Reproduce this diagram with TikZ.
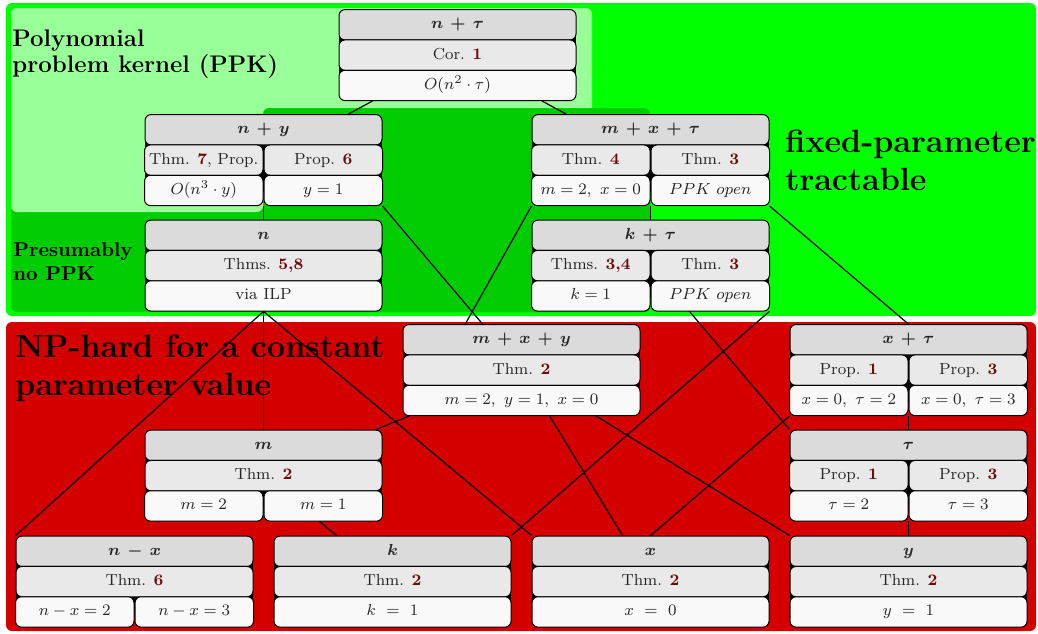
\documentclass[tikz,border=0pt]{standalone}
\usepackage{amsmath}
\usetikzlibrary{calc}

\definecolor{fptgreen}{RGB}{0,255,0}
\definecolor{ppkgreen}{RGB}{153,255,153}
\definecolor{nopkgreen}{RGB}{0,204,0}
\definecolor{hardred}{RGB}{212,0,0}
\definecolor{thmred}{RGB}{110,10,10}

\pgfdeclarelayer{regions}
\pgfdeclarelayer{edges}
\pgfsetlayers{regions,edges,main}

\tikzset{
  pbox/.style={minimum width=118.5pt, minimum height=45.5pt, inner sep=0pt},
  cellbase/.style={draw=black, line width=0.5pt, rounded corners=3pt, inner sep=1pt,
    minimum height=15.17pt, text height=5.8pt, text depth=1.8pt, text=black!85, font=\footnotesize},
  headcell/.style={cellbase, fill=gray!28},
  midcell/.style={cellbase, fill=gray!17},
  lowcell/.style={cellbase, fill=gray!5},
  rowcell/.style={midcell},
  link/.style={line width=0.6pt, black},
  regionlabel/.style={anchor=north west, inner sep=0pt, align=left, font=\bfseries},
}

\newcommand{\nr}[1]{\textcolor{thmred}{\textbf{#1}}}
\newcommand{\whole}[1]{\node[rowcell, minimum width=118.5pt, anchor=north] at (row) {#1};}
\newcommand{\halves}[2]{%
  \node[rowcell, minimum width=59.25pt, anchor=north east] at (row) {#1};
  \node[rowcell, minimum width=59.25pt, anchor=north west] at (row) {#2};}
\newcommand{\paramnode}[5]{%
  \node[pbox] (#1) at (#2) {};
  \fill[black] ([yshift=-7pt]#1.north west) rectangle ([yshift=7pt]#1.south east);
  \node[headcell, minimum width=118.5pt, anchor=north] at (#1.north) {\medmuskip=6.5mu $\boldsymbol{#3}$};
  \coordinate (row) at ([yshift=-15.17pt]#1.north);
  \tikzset{rowcell/.style={midcell}}#4
  \coordinate (row) at ([yshift=-30.33pt]#1.north);
  \tikzset{rowcell/.style={lowcell}}#5}

\begin{document}
\begin{tikzpicture}[x=0.5pt, y=-0.5pt]
  \useasboundingbox (0,0) rectangle (1038,633);

  \paramnode{nt}{457.5, 55.0}{n + \tau}{\whole{Cor. \nr{1}}}{\whole{$O(n^2 \cdot \tau)$}}
  \paramnode{ny}{263.5,160.0}{n + y}{\halves{Thm. \nr{7}, Prop.}{Prop. \nr{6}}}{\halves{$O(n^3 \cdot y)$}{$y = 1$}}
  \paramnode{mxt}{650.5,160.0}{m + x + \tau}{\halves{Thm. \nr{4}}{Thm. \nr{3}}}{\halves{$m = 2,\ x = 0$}{$PPK\ open$}}
  \paramnode{n}{263.5,265.5}{n}{\whole{Thms. \nr{5,8}}}{\whole{via ILP}}
  \paramnode{kt}{650.5,265.5}{k + \tau}{\halves{Thms. \nr{3,4}}{Thm. \nr{3}}}{\halves{$k = 1$}{$PPK\ open$}}
  \paramnode{mxy}{521.5,370.0}{m + x + y}{\whole{Thm. \nr{2}}}{\whole{$m = 2,\ y = 1,\ x = 0$}}
  \paramnode{xt}{908.5,370.0}{x + \tau}{\halves{Prop. \nr{1}}{Prop. \nr{3}}}{\halves{$x = 0,\ \tau = 2$}{$x = 0,\ \tau = 3$}}
  \paramnode{m}{263.5,475.5}{m}{\whole{Thm. \nr{2}}}{\halves{$m = 2$}{$m = 1$}}
  \paramnode{t}{908.5,475.5}{\tau}{\halves{Prop. \nr{1}}{Prop. \nr{3}}}{\halves{$\tau = 2$}{$\tau = 3$}}
  \paramnode{nx}{134.5,581.5}{n - x}{\whole{Thm. \nr{6}}}{\halves{$n - x = 2$}{$n - x = 3$}}
  \paramnode{k}{392.5,581.5}{k}{\whole{Thm. \nr{2}}}{\whole{$k\ =\ 1$}}
  \paramnode{x}{650.5,581.5}{x}{\whole{Thm. \nr{2}}}{\whole{$x\ =\ 0$}}
  \paramnode{y}{908.5,581.5}{y}{\whole{Thm. \nr{2}}}{\whole{$y\ =\ 1$}}

  \begin{pgfonlayer}{regions}
    \fill[fptgreen, rounded corners=3pt] (6,3) rectangle (1036,316);
    \fill[ppkgreen, rounded corners=3pt] (11,8) rectangle (592,115);
    \fill[nopkgreen, rounded corners=3pt] (263,108) rectangle (650,312);
    \fill[nopkgreen, rounded corners=3pt] (11,200) rectangle (650,312);
    \fill[ppkgreen, rounded corners=3pt] (11,8) rectangle (263,212);
    \fill[hardred, rounded corners=3pt] (6,322) rectangle (1036,631);
    \node[regionlabel, font=\fontsize{12}{13}\selectfont\bfseries] (ppk) at (12,29) {Polynomial\\problem kernel (PPK)};
    \node[regionlabel, font=\normalsize\bfseries] (nopk) at (13,242) {Presumably\\no PPK};
    \node[regionlabel, font=\fontsize{16.1}{18.7}\selectfont\bfseries] (fpt) at (785,130) {fixed-parameter\\tractable};
    \node[regionlabel, font=\fontsize{16.1}{19}\selectfont\bfseries] (hard) at (15,335) {NP-hard for a constant\\parameter value};
  \end{pgfonlayer}

  \begin{pgfonlayer}{edges}
    \draw[link] (nt) -- (ny);
    \draw[link] (nt) -- (mxt);
    \draw[link] (ny) -- (n);
    \draw[link] (mxt) -- (kt);
    \draw[link] (ny.south east) -- (mxy.center);
    \draw[link] (mxt.south west) -- ($(mxy.center)!0.69!(mxy.west)$);
    \draw[link] (mxt.south east) -- (xt.north);
    \draw[link] (n) -- (m);
    \draw[link] (n.south) -- (nx.north west);
    \draw[link] (n.south) -- (x.north west);
    \draw[link] (kt.south east) -- (k.north east);
    \draw[link] (kt.center) -- (t.north west);
    \draw[link] (mxy) -- (m);
    \draw[link] (mxy) -- (x);
    \draw[link] (mxy.center) -- (y.north west);
    \draw[link] (xt) -- (t);
    \draw[link] (xt.south west) -- (x.north);
    \draw[link] (m) -- (k);
    \draw[link] (t) -- (y);
  \end{pgfonlayer}
\end{tikzpicture}
\end{document}
